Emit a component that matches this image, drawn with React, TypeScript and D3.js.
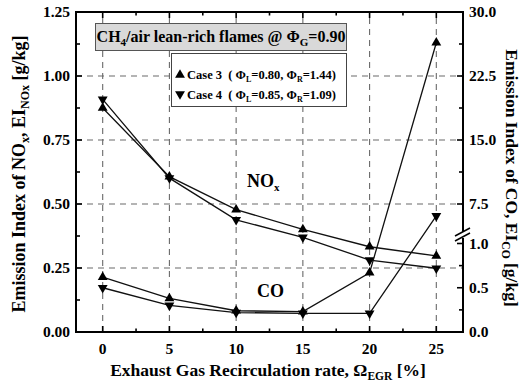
import React from "react";
import * as d3 from "d3";

// EGR rate (%) and emission indices for two lean-rich flame cases
const egrRates = [0, 5, 10, 15, 20, 25];
const noxCase3 = [0.875, 0.607, 0.478, 0.401, 0.333, 0.297];
const noxCase4 = [0.909, 0.601, 0.438, 0.37, 0.281, 0.249];
const coCase3 = [0.62, 0.38, 0.24, 0.23, 0.67, 26.4];
const coCase4 = [0.5, 0.3, 0.22, 0.21, 0.21, 6.1];

const xTicks = [0, 5, 10, 15, 20, 25];
const leftTicks = [0, 0.25, 0.5, 0.75, 1.0, 1.25];
const rightUpperTicks = [7.5, 15.0, 22.5, 30.0];
const rightLowerTicks = [0.0, 0.5, 1.0];

const FONT = "'Liberation Serif', 'Times New Roman', serif";

const L = 76, R = 463, T = 12, B = 332;
const BREAK_Y = 235;

const x = d3.scaleLinear().domain([-2, 27]).range([L, R]);
const yNox = d3.scaleLinear().domain([0, 1.25]).range([B, T]);
// right axis is broken: a lower CO segment and an upper CO segment
const yCoLow = d3.scaleLinear().domain([0, 1.1]).range([B, B - 1.1 * 88.5]);
const yCoHigh = d3.scaleLinear().domain([7.5, 30]).range([204, T]);
const yCo = (v: number) => (v <= 1.1 ? yCoLow(v) : yCoHigh(v));

const triUp = d3.symbol().type(d3.symbolTriangle).size(42)()!;

function Marker({ cx, cy, down }: { cx: number; cy: number; down?: boolean }) {
  return (
    <path
      d={triUp}
      transform={`translate(${cx},${cy})${down ? " rotate(180)" : ""}`}
      fill="#000"
    />
  );
}

function Series({ values, yScale, down }: { values: number[]; yScale: (v: number) => number; down?: boolean }) {
  const line = d3
    .line<number>()
    .x((_, i) => x(egrRates[i]))
    .y((v) => yScale(v));
  return (
    <g>
      <path d={line(values)!} fill="none" stroke="#111" strokeWidth={1.3} />
      {values.map((v, i) => (
        <Marker key={i} cx={x(egrRates[i])} cy={yScale(v)} down={down} />
      ))}
    </g>
  );
}

export default function App() {
  const grid = "#6a6a6a";
  const dash = "6,5";
  const xMinor = d3.range(0, 27, 2.5).filter((v) => v % 5 !== 0);
  const leftMinor = d3.range(0.125, 1.25, 0.25);
  const rightUpperMinor = [11.25, 18.75, 26.25];
  const rightLowerMinor = [0.25, 0.75];
  const tickFont = 15.5;
  const gap = "\u00a0\u00a0";

  return (
    <svg
      width={528}
      height={386}
      style={{ position: "absolute", left: 0, top: 0, background: "#fff" }}
      fontFamily={FONT}
      fontWeight="bold"
    >
      <rect x={0} y={0} width={528} height={386} fill="#fff" />

      {/* dashed grid */}
      {xTicks.map((t) => (
        <line key={"gx" + t} x1={x(t)} x2={x(t)} y1={B} y2={T} stroke={grid} strokeDasharray={dash} strokeWidth={1.1} />
      ))}
      {[0.25, 0.5, 0.75, 1.0].map((t) => (
        <line key={"gy" + t} x1={L} x2={R} y1={yNox(t)} y2={yNox(t)} stroke={grid} strokeDasharray={dash} strokeWidth={1.1} />
      ))}

      {/* data */}
      <Series values={noxCase3} yScale={yNox} />
      <Series values={noxCase4} yScale={yNox} down />
      <Series values={coCase3} yScale={yCo} />
      <Series values={coCase4} yScale={yCo} down />

      {/* title box */}
      <rect x={95.5} y={23.5} width={251} height={27} fill="#d9d9d9" stroke="#555" strokeWidth={1} />
      <text x={221} y={42} textAnchor="middle" fontSize={16}>
        CH<tspan fontSize={11} dy={4}>4</tspan>
        <tspan dy={-4}>/air lean-rich flames @ Φ</tspan>
        <tspan fontSize={11} dy={4}>G</tspan>
        <tspan dy={-4}>=0.90</tspan>
      </text>

      {/* legend */}
      <rect x={171.5} y={53.5} width={175} height={53} fill="#fff" stroke="#444" strokeWidth={1} />
      <Marker cx={180} cy={75} />
      <text x={187} y={79} fontSize={12.5}>
        {`Case 3${gap}( Φ`}
        <tspan fontSize={8} dy={3}>L</tspan>
        <tspan dy={-3}>=0.80, Φ</tspan>
        <tspan fontSize={8} dy={3}>R</tspan>
        <tspan dy={-3}>=1.44)</tspan>
      </text>
      <Marker cx={180} cy={94} down />
      <text x={187} y={99} fontSize={12.5}>
        {`Case 4${gap}( Φ`}
        <tspan fontSize={8} dy={3}>L</tspan>
        <tspan dy={-3}>=0.85, Φ</tspan>
        <tspan fontSize={8} dy={3}>R</tspan>
        <tspan dy={-3}>=1.09)</tspan>
      </text>

      {/* series annotations */}
      <text x={247} y={187} fontSize={18}>
        NO<tspan fontSize={11} dy={4}>x</tspan>
      </text>
      <text x={257} y={297} fontSize={18}>CO</text>

      {/* frame */}
      <rect x={L} y={T} width={R - L} height={B - T} fill="none" stroke="#000" strokeWidth={2} />

      {/* bottom and top ticks */}
      {xTicks.map((t) => (
        <g key={"xt" + t}>
          <line x1={x(t)} x2={x(t)} y1={B} y2={B - 6} stroke="#000" strokeWidth={1.6} />
          <line x1={x(t)} x2={x(t)} y1={T} y2={T + 6} stroke="#000" strokeWidth={1.6} />
          <text x={x(t)} y={354} textAnchor="middle" fontSize={tickFont}>
            {t}
          </text>
        </g>
      ))}
      {xMinor.map((t) => (
        <g key={"xm" + t}>
          <line x1={x(t)} x2={x(t)} y1={B} y2={B - 3.5} stroke="#000" strokeWidth={1.6} />
          <line x1={x(t)} x2={x(t)} y1={T} y2={T + 3.5} stroke="#000" strokeWidth={1.6} />
        </g>
      ))}

      {/* left axis */}
      {leftTicks.map((t) => (
        <g key={"lt" + t}>
          <line x1={L} x2={L + 6} y1={yNox(t)} y2={yNox(t)} stroke="#000" strokeWidth={1.6} />
          <text x={70} y={yNox(t) + 5} textAnchor="end" fontSize={tickFont}>
            {t.toFixed(2)}
          </text>
        </g>
      ))}
      {leftMinor.map((t) => (
        <line key={"lm" + t} x1={L} x2={L + 4} y1={yNox(t)} y2={yNox(t)} stroke="#000" strokeWidth={1.6} />
      ))}

      {/* right axis */}
      {rightUpperTicks.map((t) => (
        <g key={"ru" + t}>
          <line x1={R} x2={R - 6} y1={yCoHigh(t)} y2={yCoHigh(t)} stroke="#000" strokeWidth={1.6} />
          <text x={469} y={yCoHigh(t) + 5} fontSize={tickFont}>
            {t.toFixed(1)}
          </text>
        </g>
      ))}
      {rightUpperMinor.map((t) => (
        <line key={"rum" + t} x1={R} x2={R - 4} y1={yCoHigh(t)} y2={yCoHigh(t)} stroke="#000" strokeWidth={1.6} />
      ))}
      {rightLowerTicks.map((t) => (
        <g key={"rl" + t}>
          <line x1={R} x2={R - 6} y1={yCoLow(t)} y2={yCoLow(t)} stroke="#000" strokeWidth={1.6} />
          <text x={469} y={yCoLow(t) + 5} fontSize={tickFont}>
            {t.toFixed(1)}
          </text>
        </g>
      ))}
      {rightLowerMinor.map((t) => (
        <line key={"rlm" + t} x1={R} x2={R - 4} y1={yCoLow(t)} y2={yCoLow(t)} stroke="#000" strokeWidth={1.6} />
      ))}

      {/* axis break */}
      <rect x={R - 2} y={BREAK_Y - 3} width={4} height={6} fill="#fff" />
      <line x1={R - 8} y1={BREAK_Y + 1} x2={R + 7} y2={BREAK_Y - 7} stroke="#000" strokeWidth={1.5} />
      <line x1={R - 8} y1={BREAK_Y + 6} x2={R + 7} y2={BREAK_Y - 2} stroke="#000" strokeWidth={1.5} />

      {/* axis titles */}
      <text transform="translate(25,174) rotate(-90)" textAnchor="middle" fontSize={18}>
        Emission Index of NO<tspan fontSize={12} dy={4}>x</tspan>
        <tspan dy={-4}>, EI</tspan>
        <tspan fontSize={12} dy={4}>NOx</tspan>
        <tspan dy={-4}> [g/kg]</tspan>
      </text>
      <text x={268} y={376} textAnchor="middle" fontSize={17.5}>
        Exhaust Gas Recirculation rate, Ω<tspan fontSize={11.5} dy={4}>EGR</tspan>
        <tspan dy={-4}> [%]</tspan>
      </text>
      <text transform="translate(506,178) rotate(90)" textAnchor="middle" fontSize={17.5}>
        Emission Index of CO, EI<tspan fontSize={11.5} dy={4}>CO</tspan>
        <tspan dy={-4}> [g/kg]</tspan>
      </text>
    </svg>
  );
}
